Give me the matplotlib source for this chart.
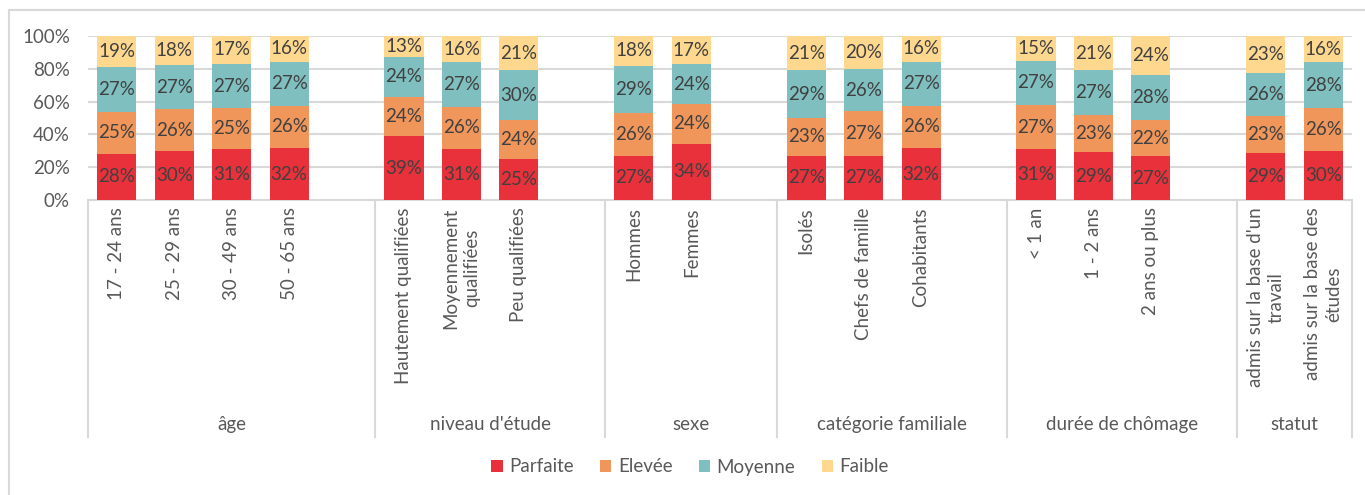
import matplotlib.pyplot as plt
import numpy as np
from matplotlib.patches import Rectangle

# ==================== Data ====================
groups = ["âge", "niveau d'étude", "sexe", "catégorie familiale",
          "durée de chômage", "statut"]
categories = [
    ["17 - 24 ans", "25 - 29 ans", "30 - 49 ans", "50 - 65 ans"],
    ["Hautement qualifiées", "Moyennement\nqualifiées", "Peu qualifiées"],
    ["Hommes", "Femmes"],
    ["Isolés", "Chefs de famille", "Cohabitants"],
    ["< 1 an", "1 - 2 ans", "2 ans ou plus"],
    ["admis sur la base d'un\ntravail", "admis sur la base des\nétudes"],
]
series_names = ["Parfaite", "Elevée", "Moyenne", "Faible"]
parfaite = [28, 30, 31, 32, 39, 31, 25, 27, 34, 27, 27, 32, 31, 29, 27, 29, 30]
elevee = [25, 26, 25, 26, 24, 26, 24, 26, 24, 23, 27, 26, 27, 23, 22, 23, 26]
moyenne = [27, 27, 27, 27, 24, 27, 30, 29, 24, 29, 26, 27, 27, 27, 28, 26, 28]
faible = [19, 18, 17, 16, 13, 16, 21, 18, 17, 21, 20, 16, 15, 21, 24, 23, 16]

colors = ['#E8313A', '#F0965A', '#7FBFBF', '#FFD890']

plt.rcParams['font.family'] = ['Lato', 'DejaVu Sans']

# positions: one empty slot between groups
positions = []
bounds = [-0.5]
slot = 0
for gi, cats in enumerate(categories):
    for c in cats:
        positions.append(slot)
        slot += 1
    if gi < len(categories) - 1:
        slot += 1
    bounds.append(slot - 0.5)
positions = np.array(positions)

values = np.array([parfaite, elevee, moyenne, faible], dtype=float)
shares = values / values.sum(axis=0) * 100  # 100% stacked

fig = plt.figure(figsize=(13.65, 4.95), dpi=100)
ax = fig.add_axes([88 / 1365, 1 - 200 / 495, (1352 - 88) / 1365, 164 / 495])

bottom = np.zeros(len(positions))
for k in range(4):
    ax.bar(positions, shares[k], 0.68, bottom=bottom, color=colors[k],
           label=series_names[k], zorder=3)
    for x, b, h, v in zip(positions, bottom, shares[k], values[k]):
        ax.text(x, b + h / 2, f"{int(v)}%", ha='center', va='center',
                fontsize=13.5, color='#404040', zorder=4)
    bottom += shares[k]

ax.set_xlim(-0.5, slot - 0.5)
ax.set_ylim(0, 100)
ax.set_yticks([0, 20, 40, 60, 80, 100])
ax.set_yticklabels([f"{t}%" for t in range(0, 101, 20)])
ax.tick_params(axis='y', length=0, pad=13, labelsize=13.5, labelcolor='#595959')
ax.set_xticks([])
ax.grid(axis='y', color='#D9D9D9', linewidth=1.5, zorder=0)
for s in ['top', 'right', 'left']:
    ax.spines[s].set_visible(False)
ax.spines['bottom'].set_color('#D9D9D9')
ax.spines['bottom'].set_linewidth(1.5)

trans = ax.get_xaxis_transform()
# category labels
flat_cats = [c for cats in categories for c in cats]
for x, lab in zip(positions, flat_cats):
    ax.text(x, -0.045, lab, transform=trans, rotation=90, ha='center', va='top',
            multialignment='center', fontsize=13.5, color='#595959', clip_on=False,
            linespacing=1.3)
# group labels and separators
for gi, g in enumerate(groups):
    ax.text((bounds[gi] + bounds[gi + 1]) / 2, -1.366, g, transform=trans,
            ha='center', va='center', fontsize=13.5, color='#595959', clip_on=False)
for b in bounds:
    ax.plot([b, b], [0, -1.445], transform=trans, color='#D9D9D9', lw=1.5,
            clip_on=False, zorder=1)

fig.legend(loc='center', bbox_to_anchor=(690 / 1365, 1 - 467 / 495), ncol=4,
           frameon=False, fontsize=13.5, handlelength=0.6, handleheight=0.6,
           handletextpad=0.35, columnspacing=1.4, labelcolor='#595959')

# chart frame
fig.patches.append(Rectangle((9 / 1365, -0.1), 1.2, 1 - 10 / 495 + 0.1,
                             transform=fig.transFigure, fill=False,
                             edgecolor='#D9D9D9', lw=1.5))

fig.savefig('out.png', dpi=100, facecolor='white')
